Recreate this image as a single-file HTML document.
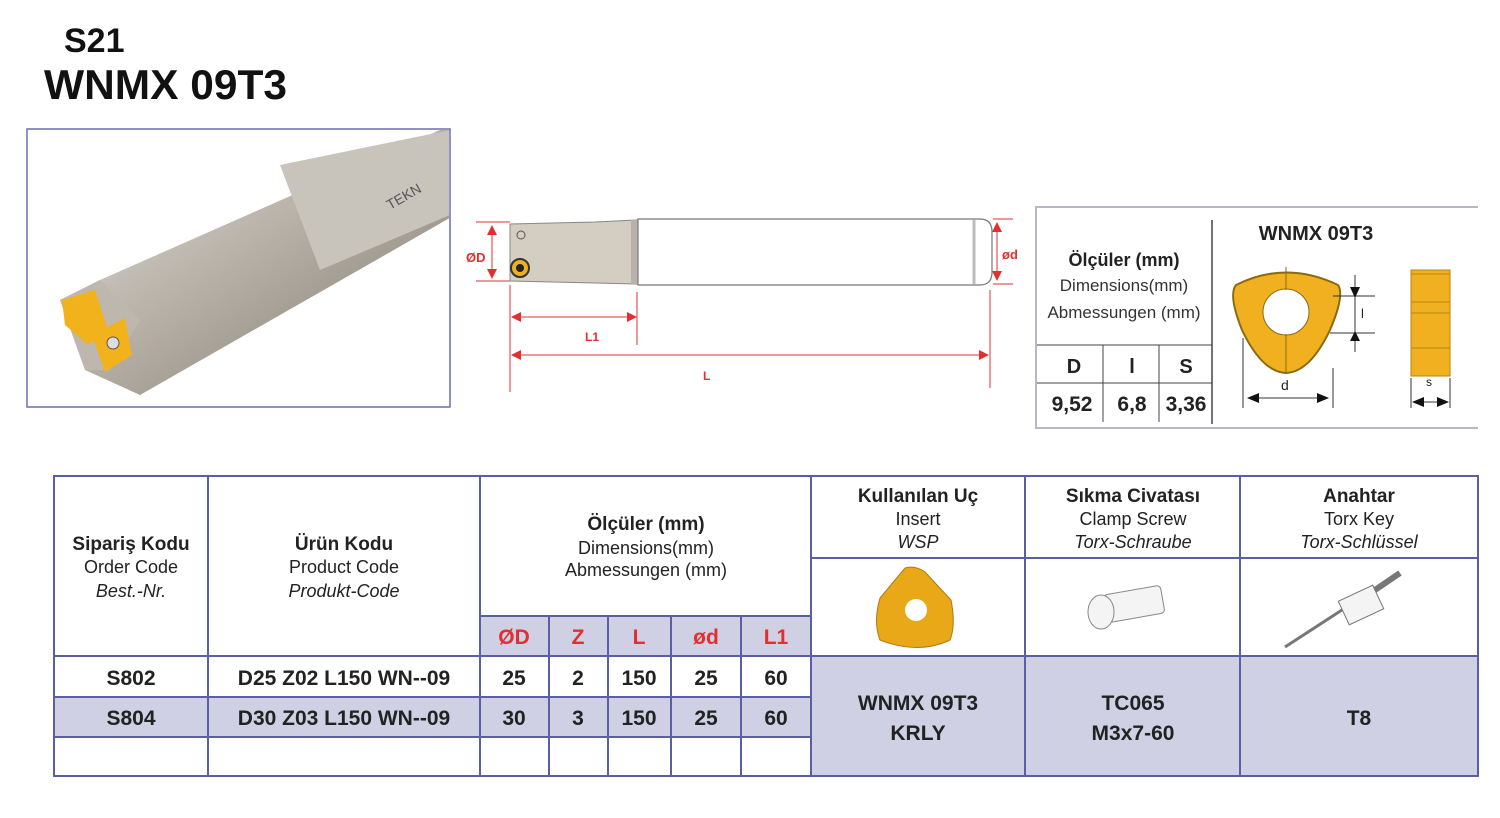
<!DOCTYPE html>
<html><head><meta charset="utf-8"><style>
html,body{margin:0;padding:0;background:#fff}
svg{display:block}
text{font-family:"Liberation Sans",sans-serif}
</style></head><body>
<svg width="1500" height="818" viewBox="0 0 1500 818" xmlns="http://www.w3.org/2000/svg">
<defs>
<linearGradient id="sh2" x1="0" y1="0" x2="1" y2="1">
<stop offset="0" stop-color="#e6e3dd"/><stop offset="0.5" stop-color="#b3ada3"/><stop offset="1" stop-color="#7d776e"/></linearGradient>
<marker id="ar" markerWidth="10" markerHeight="10" refX="9" refY="5" orient="auto-start-reverse" markerUnits="userSpaceOnUse"><path d="M0,0 L10,5 L0,10 Z" fill="#e03030"/></marker>
<marker id="ak" markerWidth="12" markerHeight="10" refX="11" refY="5" orient="auto-start-reverse" markerUnits="userSpaceOnUse"><path d="M0,0 L12,5 L0,10 Z" fill="#111"/></marker>
</defs>
<text x="64" y="52" font-size="34" font-weight="bold" fill="#111">S21</text>
<text x="44" y="99" font-size="42" font-weight="bold" fill="#111" textLength="243" lengthAdjust="spacingAndGlyphs">WNMX 09T3</text>

<rect x="27" y="129" width="423" height="278" fill="#fff" stroke="#6a6fae" stroke-width="1.5"/>
<clipPath id="pc"><rect x="28" y="130" width="421" height="276"/></clipPath>
<g clip-path="url(#pc)">
<polygon points="440,130 455,130 455,215 140,395 85,370 60,300 100,280" fill="url(#sh2)"/>
<polygon points="280,165 450,130 450,215 320,270" fill="#c9c4bb"/>
<polygon points="60,300 100,280 140,320 110,370 85,370" fill="#bdb7ad"/>
<polygon points="62,300 95,290 108,330 88,345 65,325" fill="#f2b21c"/>
<polygon points="92,335 125,318 132,355 105,372" fill="#f2b21c"/>
<circle cx="113" cy="343" r="6" fill="#ddd" stroke="#555"/>
<text x="390" y="210" font-size="14" fill="#555" transform="rotate(-30 390 210)">TEKN</text>
</g>

<g stroke="#e03030" stroke-width="1" fill="none">
<line x1="476" y1="222" x2="510" y2="222"/><line x1="476" y1="281" x2="510" y2="281"/>
<line x1="993" y1="219" x2="1013" y2="219"/><line x1="993" y1="284" x2="1013" y2="284"/>
<line x1="510" y1="285" x2="510" y2="392"/><line x1="637" y1="292" x2="637" y2="345"/><line x1="990" y1="290" x2="990" y2="388"/>
<line x1="492" y1="226" x2="492" y2="278" marker-start="url(#ar)" marker-end="url(#ar)"/>
<line x1="997" y1="223" x2="997" y2="280" marker-start="url(#ar)" marker-end="url(#ar)"/>
<line x1="512" y1="317" x2="636" y2="317" marker-start="url(#ar)" marker-end="url(#ar)"/>
<line x1="512" y1="355" x2="988" y2="355" marker-start="url(#ar)" marker-end="url(#ar)"/>
</g>
<text x="466" y="262" font-size="13" font-weight="bold" fill="#e03030">ØD</text>
<text x="1002" y="259" font-size="13" font-weight="bold" fill="#e03030">ød</text>
<text x="585" y="341" font-size="12" font-weight="bold" fill="#e03030">L1</text>
<text x="703" y="380" font-size="12" font-weight="bold" fill="#e03030">L</text>
<polygon points="510,224 595,222 637,220 637,284 595,283 510,281" fill="#d3cdc2" stroke="#888" stroke-width="1"/>
<rect x="631" y="220" width="8" height="64" fill="#b8b2a8"/>
<path d="M638,219 L980,219 Q992,219 992,232 L992,272 Q992,285 980,285 L638,285 Z" fill="#fff" stroke="#777" stroke-width="1.2"/>
<line x1="974" y1="220" x2="974" y2="284" stroke="#bbb" stroke-width="3"/>
<circle cx="520" cy="268" r="9" fill="#f0b020" stroke="#333" stroke-width="2"/>
<circle cx="520" cy="268" r="4" fill="#222"/>
<circle cx="521" cy="235" r="4" fill="none" stroke="#555"/>

<path d="M1478,207 L1036,207 L1036,428 L1478,428" fill="none" stroke="#b8b6c8" stroke-width="2"/>
<line x1="1212" y1="220" x2="1212" y2="424" stroke="#444" stroke-width="1.5"/>
<line x1="1037" y1="345" x2="1212" y2="345" stroke="#444"/>
<line x1="1037" y1="383" x2="1212" y2="383" stroke="#444"/>
<line x1="1103" y1="345" x2="1103" y2="422" stroke="#444"/>
<line x1="1159" y1="345" x2="1159" y2="422" stroke="#444"/>
<text x="1124" y="266" font-size="18" font-weight="bold" text-anchor="middle" fill="#222">Ölçüler (mm)</text>
<text x="1124" y="291" font-size="17" text-anchor="middle" fill="#333">Dimensions(mm)</text>
<text x="1124" y="318" font-size="17" text-anchor="middle" fill="#333">Abmessungen (mm)</text>
<text x="1074" y="373" font-size="20" font-weight="bold" text-anchor="middle" fill="#222">D</text>
<text x="1132" y="373" font-size="20" font-weight="bold" text-anchor="middle" fill="#222">l</text>
<text x="1186" y="373" font-size="20" font-weight="bold" text-anchor="middle" fill="#222">S</text>
<text x="1072" y="411" font-size="21" font-weight="bold" text-anchor="middle" fill="#222">9,52</text>
<text x="1132" y="411" font-size="21" font-weight="bold" text-anchor="middle" fill="#222">6,8</text>
<text x="1186" y="411" font-size="21" font-weight="bold" text-anchor="middle" fill="#222">3,36</text>
<text x="1316" y="240" font-size="20" font-weight="bold" text-anchor="middle" fill="#222">WNMX 09T3</text>
<path d="M1236,285 Q1286,260 1338,285 Q1345,295 1330,330 Q1310,372 1286,373 Q1262,372 1242,330 Q1228,295 1236,285 Z" fill="#f0b020" stroke="#8a6a10" stroke-width="2"/>
<circle cx="1286" cy="312" r="23" fill="#fff" stroke="#8a6a10" stroke-width="1"/>
<line x1="1286" y1="290" x2="1286" y2="267" stroke="#8a6a10"/><line x1="1286" y1="334" x2="1286" y2="372" stroke="#8a6a10"/>
<g stroke="#333" stroke-width="1">
<line x1="1333" y1="296" x2="1375" y2="296"/><line x1="1330" y1="333" x2="1375" y2="333"/>
<line x1="1355" y1="275" x2="1355" y2="352"/>
<line x1="1243" y1="338" x2="1243" y2="408"/><line x1="1333" y1="368" x2="1333" y2="408"/>
<line x1="1411" y1="378" x2="1411" y2="408"/><line x1="1450" y1="378" x2="1450" y2="408"/>
<line x1="1248" y1="398" x2="1328" y2="398" marker-start="url(#ak)" marker-end="url(#ak)"/>
<line x1="1413" y1="402" x2="1448" y2="402" marker-start="url(#ak)" marker-end="url(#ak)"/>
</g>
<path d="M1355,287 L1350,287 L1355,298 L1360,287 Z M1355,341 L1350,341 L1355,331 L1360,341 Z" fill="#111"/>
<text x="1361" y="318" font-size="13" fill="#222">l</text>
<text x="1281" y="390" font-size="14" fill="#222">d</text>
<text x="1426" y="386" font-size="12" fill="#222">s</text>
<rect x="1411" y="270" width="39" height="106" fill="#f0b020" stroke="#b8860b"/>
<line x1="1411" y1="274" x2="1450" y2="274" stroke="#b8860b"/><line x1="1411" y1="302" x2="1450" y2="302" stroke="#b8860b"/><line x1="1411" y1="313" x2="1450" y2="313" stroke="#b8860b"/><line x1="1411" y1="348" x2="1450" y2="348" stroke="#b8860b"/>

<g fill="#cfd0e4">
<rect x="480" y="616" width="331" height="40"/>
<rect x="54" y="697" width="757" height="40"/>
<rect x="811" y="656" width="667" height="120"/>
</g>
<g stroke="#5a5fa4" stroke-width="2" fill="none">
<rect x="54" y="476" width="1424" height="300"/>
<line x1="208" y1="476" x2="208" y2="776"/><line x1="480" y1="476" x2="480" y2="776"/>
<line x1="811" y1="476" x2="811" y2="776"/><line x1="1025" y1="476" x2="1025" y2="776"/><line x1="1240" y1="476" x2="1240" y2="776"/>
<line x1="811" y1="558" x2="1478" y2="558"/><line x1="811" y1="656" x2="1478" y2="656"/>
<line x1="480" y1="616" x2="811" y2="616"/>
<line x1="54" y1="656" x2="811" y2="656"/><line x1="54" y1="697" x2="811" y2="697"/><line x1="54" y1="737" x2="811" y2="737"/>
<line x1="549" y1="616" x2="549" y2="776"/><line x1="608" y1="616" x2="608" y2="776"/><line x1="671" y1="616" x2="671" y2="776"/><line x1="741" y1="616" x2="741" y2="776"/>
</g>
<g text-anchor="middle" fill="#222">
<text x="131" y="550" font-size="19" font-weight="bold">Sipariş Kodu</text>
<text x="131" y="573" font-size="18">Order Code</text>
<text x="131" y="597" font-size="18" font-style="italic">Best.-Nr.</text>
<text x="344" y="550" font-size="19" font-weight="bold">Ürün Kodu</text>
<text x="344" y="573" font-size="18">Product Code</text>
<text x="344" y="597" font-size="18" font-style="italic">Produkt-Code</text>
<text x="646" y="530" font-size="19" font-weight="bold">Ölçüler (mm)</text>
<text x="646" y="554" font-size="18">Dimensions(mm)</text>
<text x="646" y="576" font-size="18">Abmessungen (mm)</text>
<text x="918" y="502" font-size="19" font-weight="bold">Kullanılan Uç</text>
<text x="918" y="525" font-size="18">Insert</text>
<text x="918" y="548" font-size="18" font-style="italic">WSP</text>
<text x="1133" y="502" font-size="19" font-weight="bold">Sıkma Civatası</text>
<text x="1133" y="525" font-size="18">Clamp Screw</text>
<text x="1133" y="548" font-size="18" font-style="italic">Torx-Schraube</text>
<text x="1359" y="502" font-size="19" font-weight="bold">Anahtar</text>
<text x="1359" y="525" font-size="18">Torx Key</text>
<text x="1359" y="548" font-size="18" font-style="italic">Torx-Schlüssel</text>
<g font-size="21" font-weight="bold" fill="#e03030">
<text x="514" y="644">ØD</text><text x="578" y="644">Z</text><text x="639" y="644">L</text><text x="706" y="644">ød</text><text x="776" y="644">L1</text>
</g>
<g font-size="21" font-weight="bold">
<text x="131" y="685">S802</text><text x="344" y="685">D25 Z02 L150 WN--09</text>
<text x="514" y="685">25</text><text x="578" y="685">2</text><text x="639" y="685">150</text><text x="706" y="685">25</text><text x="776" y="685">60</text>
<text x="131" y="725">S804</text><text x="344" y="725">D30 Z03 L150 WN--09</text>
<text x="514" y="725">30</text><text x="578" y="725">3</text><text x="639" y="725">150</text><text x="706" y="725">25</text><text x="776" y="725">60</text>
<text x="918" y="710">WNMX 09T3</text><text x="918" y="740">KRLY</text>
<text x="1133" y="710">TC065</text><text x="1133" y="740">M3x7-60</text>
<text x="1359" y="725">T8</text>
</g>
</g>
<path d="M905,568 Q915,565 925,572 L951,600 Q956,625 950,640 Q918,655 880,640 Q873,622 880,598 Z" fill="#e8a818" stroke="#b07a10"/>
<circle cx="916" cy="610" r="11" fill="#fff"/>
<g stroke="#888" fill="#f4f4f4">
<rect x="1105" y="590" width="58" height="28" rx="4" transform="rotate(-10 1134 604)"/>
<ellipse cx="1101" cy="612" rx="13" ry="17"/>
</g>
<g stroke="#777" fill="#f4f4f4">
<line x1="1285" y1="647" x2="1345" y2="608" stroke-width="3"/>
<rect x="1342" y="592" width="38" height="26" transform="rotate(-25 1361 605)"/>
<line x1="1375" y1="590" x2="1400" y2="573" stroke-width="6"/>
</g>
</svg>
</body></html>
